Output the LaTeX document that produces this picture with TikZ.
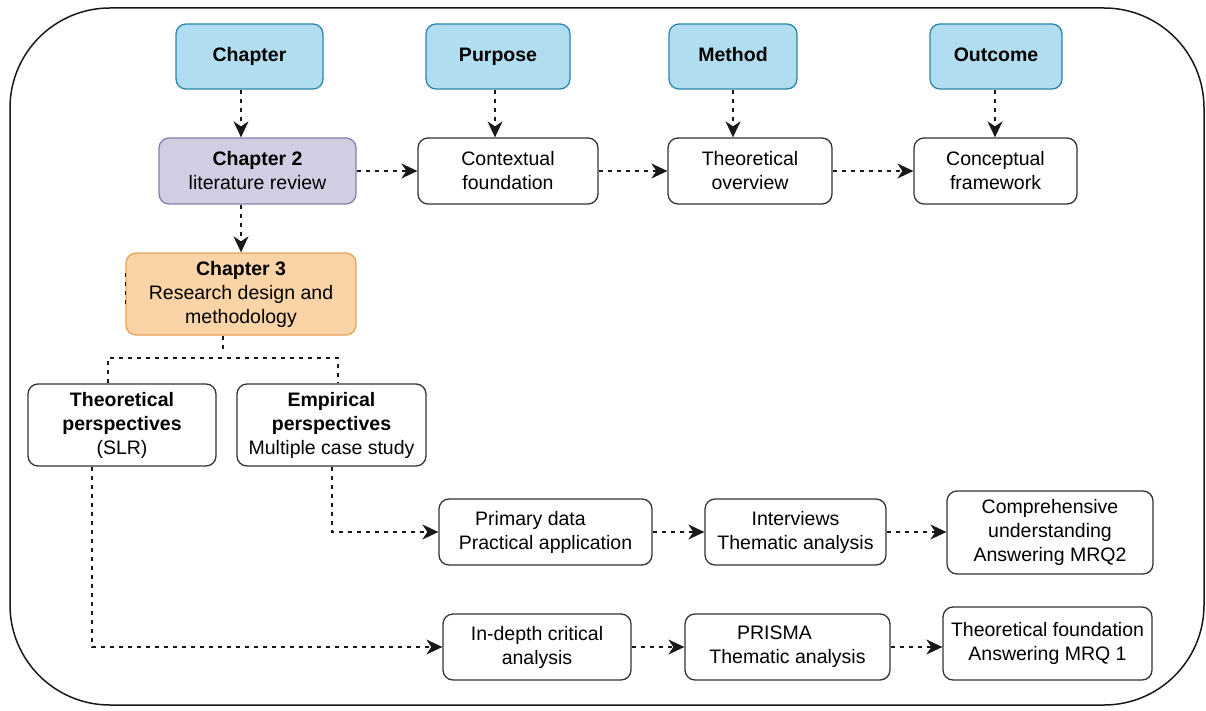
\documentclass[tikz,border=0pt]{standalone}
\usepackage{fontspec}
\setmainfont{Liberation Sans}
\usetikzlibrary{arrows.meta}

\definecolor{hdrfill}{HTML}{B1DDF0}
\definecolor{hdrline}{HTML}{2A86AE}
\definecolor{chtwofill}{HTML}{D0CEE2}
\definecolor{chtwoline}{HTML}{8380AE}
\definecolor{chthreefill}{HTML}{FAD3A6}
\definecolor{chthreeline}{HTML}{E3A45A}
\definecolor{boxline}{HTML}{333333}

\tikzset{
  box/.style={draw=boxline, line width=1.3pt, rounded corners=10pt, fill=white,
    align=center, inner sep=2pt, font=\fontsize{19.5}{24}\selectfont},
  header/.style={box, fill=hdrfill, draw=hdrline, text height=14pt, text depth=4pt,
    font=\fontsize{19.5}{24}\selectfont\bfseries},
  chtwo/.style={box, fill=chtwofill, draw=chtwoline},
  chthree/.style={box, fill=chthreefill, draw=chthreeline},
  dl/.style={line width=1.3pt, dash pattern=on 4.5pt off 4.5pt, draw=black!90},
  arr/.style={dl, -{Stealth[length=16pt,width=15pt,inset=5pt]}},
}

\begin{document}
\begin{tikzpicture}[x=1pt,y=-1pt]
\useasboundingbox (0,0) rectangle (1206,711);

% outer frame
\draw[line width=1.5pt, rounded corners=100pt, draw=black!90] (10,8) rectangle (1204,705);

% column headers
\node[header, minimum width=147, minimum height=65] (hchap) at (249.5,56.5) {Chapter};
\node[header, minimum width=144, minimum height=65] (hpurp) at (498,56.5) {Purpose};
\node[header, minimum width=128, minimum height=65] (hmeth) at (733,56.5) {Method};
\node[header, minimum width=132, minimum height=65] (hout)  at (996,56.5) {Outcome};

% chapter 2 row
\node[chtwo, minimum width=197, minimum height=66] (ch2) at (257.5,171) {\textbf{Chapter 2}\\literature review};
\node[box, minimum width=180, minimum height=66] (ctx) at (508,171) {Contextual\\foundation};
\node[box, minimum width=164, minimum height=66] (tov) at (750,171) {Theoretical\\overview};
\node[box, minimum width=163, minimum height=66] (cfw) at (995.5,171) {Conceptual\\framework};

% chapter 3
\node[chthree, minimum width=230, minimum height=82] (ch3) at (241,294) {\textbf{Chapter 3}\\Research design and\\methodology};

% perspectives
\node[box, minimum width=188, minimum height=82] (tp) at (122,425) {\textbf{Theoretical}\\\textbf{perspectives}\\(SLR)};
\node[box, minimum width=189, minimum height=82] (ep) at (331.5,425) {\textbf{Empirical}\\\textbf{perspectives}\\Multiple case study};

% empirical strand
\node[box, minimum width=213, minimum height=66] (pd)  at (545.5,532) {Primary data\kern30pt\\Practical application};
\node[box, minimum width=181, minimum height=66] (iv)  at (795.5,532) {Interviews\\Thematic analysis};
\node[box, minimum width=206, minimum height=83] (cu)  at (1050,532.5) {Comprehensive\\understanding\\Answering MRQ2};

% theoretical strand
\node[box, minimum width=188, minimum height=66] (ida) at (537,647) {In-depth critical\\analysis};
\node[box, minimum width=205, minimum height=66] (pr)  at (787.5,647) {PRISMA\kern26pt\\Thematic analysis};
\node[box, minimum width=209, minimum height=73] (tf)  at (1047.5,643.5) {Theoretical foundation\\Answering MRQ 1};

% connector columns
\coordinate (xchap) at (241,0);
\coordinate (xpurp) at (495,0);
\coordinate (xmeth) at (733,0);
\coordinate (xout)  at (995,0);
\coordinate (br)    at (223,358);
\coordinate (xtp)   at (108,0);
\coordinate (xep)   at (338,0);
\coordinate (xtpd)  at (92,0);
\coordinate (xepd)  at (332,0);

% header arrows
\draw[arr] (hchap.south -| xchap) -- (ch2.north -| xchap);
\draw[arr] (hpurp.south -| xpurp) -- (ctx.north -| xpurp);
\draw[arr] (hmeth.south -| xmeth) -- (tov.north -| xmeth);
\draw[arr] (hout.south -| xout) -- (cfw.north -| xout);

% chapter 2 row arrows
\draw[arr] (ch2.east) -- (ctx.west);
\draw[arr] (ctx.east) -- (tov.west);
\draw[arr] (tov.east) -- (cfw.west);

% chapter 2 to chapter 3
\draw[arr] (ch2.south -| xchap) -- (ch3.north -| xchap);

% split below chapter 3
\draw[dl] (ch3.south -| br) -- ([yshift=9pt]br);
\draw[dl] (tp.north -| xtp) |- (br) -| (ep.north -| xep);
\draw[dl] ([yshift=-10pt]ch3.west) -- ([yshift=26pt]ch3.west);

% empirical strand arrows
\draw[arr] (ep.south -| xepd) |- (pd.west);
\draw[arr] (pd.east) -- (iv.west);
\draw[arr] (iv.east) -- (cu.west |- iv.east);

% theoretical strand arrows
\draw[arr] (tp.south -| xtpd) |- (ida.west);
\draw[arr] (ida.east) -- (pr.west);
\draw[arr] (pr.east) -- (tf.west |- pr.east);
\end{tikzpicture}
\end{document}
